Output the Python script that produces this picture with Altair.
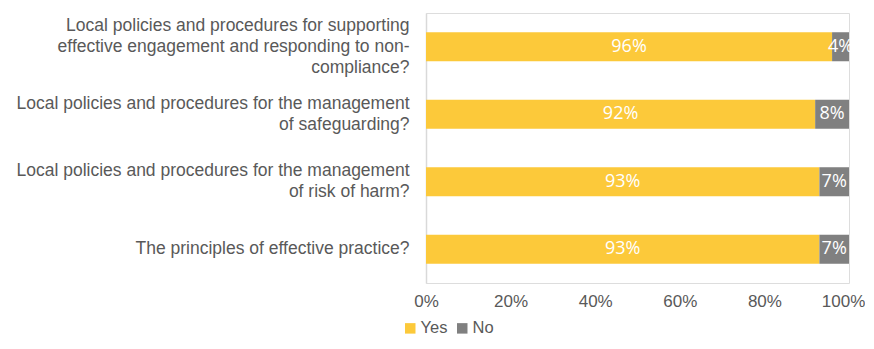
import altair as alt
import pandas as pd

questions = [
    "Local policies and procedures for supporting\neffective engagement and responding to non-\ncompliance?",
    "Local policies and procedures for the management\nof safeguarding?",
    "Local policies and procedures for the management\nof risk of harm?",
    "The principles of effective practice?",
]
yes_vals = [96, 92, 93, 93]
no_vals = [4, 8, 7, 7]
series = ["Yes", "No"]
colors = ["#FCC93A", "#808080"]

rows = []
for q, y, n in zip(questions, yes_vals, no_vals):
    rows.append({"question": q, "answer": "Yes", "value": y, "order": 0})
    rows.append({"question": q, "answer": "No", "value": n, "order": 1})
df = pd.DataFrame(rows)

FONT = "Liberation Sans"

base = alt.Chart(df).transform_stack(
    stack="value", groupby=["question"], as_=["v0", "v1"],
    sort=[alt.SortField("order", order="ascending")]
).transform_calculate(mid="(datum.v0 + datum.v1) / 2", lbl="datum.value + '%'")

yenc = alt.Y("question:N", sort=questions, title=None,
             scale=alt.Scale(paddingInner=0.57, paddingOuter=0.285),
             axis=alt.Axis(labelFont=FONT, labelFontSize=17.5, labelColor="#595959",
                           labelLimit=500, labelPadding=17, ticks=False,
                           domainColor="#D9D9D9", domainWidth=1.5,
                           labelAlign="right", labelLineHeight=21,
                           labelExpr="split(datum.label, '\\n')",
                           labelOffset={"expr": "-(length(split(datum.value, '\\n')) - 1) * 10.5"}))

bars = base.mark_bar().encode(
    x=alt.X("v0:Q", scale=alt.Scale(domain=[0, 100]), title=None,
            axis=alt.Axis(values=[0, 20, 40, 60, 80, 100], labelExpr="datum.value + '%'",
                          labelFont=FONT, labelFontSize=17, labelColor="#595959",
                          ticks=False, domain=False, grid=False, labelPadding=10,
                          labelFlush=False,
                          labelOffset={"expr": "datum.value == 100 ? -6 : 0"})),
    x2="v1:Q",
    y=yenc,
    color=alt.Color("answer:N", sort=series,
                    scale=alt.Scale(domain=series, range=colors),
                    legend=alt.Legend(title=None, orient="none", direction="horizontal",
                                      legendX=-24, legendY=307, symbolType="square",
                                      symbolSize=110, symbolStrokeWidth=0,
                                      labelFont=FONT, labelFontSize=16.5,
                                      labelColor="#595959", columnPadding=6,
                                      symbolOffset=0, labelOffset=2, padding=0)),
)

labels = base.mark_text(color="white", font="Open Sans", fontSize=18, baseline="middle").encode(
    x=alt.X("mid:Q"),
    y=alt.Y("question:N", sort=questions),
    text="lbl:N",
)

chart = alt.layer(bars, labels).properties(
    width=423, height=270,
    autosize=alt.AutoSizeParams(type="none"),
    padding={"left": 418, "top": 5, "right": 16, "bottom": 54},
).configure_view(stroke=None).configure(background="white")

chart.save("out.html", embed_options={"renderer": "svg", "actions": False})
